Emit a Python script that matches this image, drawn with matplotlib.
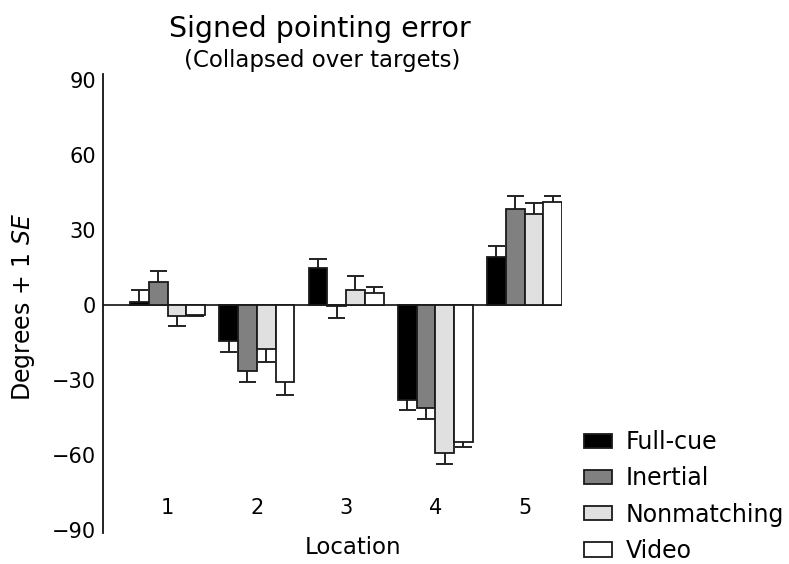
import matplotlib
matplotlib.use("Agg")
import matplotlib.pyplot as plt
import numpy as np

# ---- data ----
locations = ["1", "2", "3", "4", "5"]
series_names = ["Full-cue", "Inertial", "Nonmatching", "Video"]
full_cue = [1.3, -14.5, 14.9, -38.1, 19.1]
full_cue_se = [4.6, 4.2, 3.6, 4.0, 4.4]
inertial = [9.1, -26.5, -0.3, -41.1, 38.6]
inertial_se = [4.7, 4.4, 4.8, 4.3, 5.2]
nonmatching = [-4.2, -17.5, 6.2, -59.1, 36.5]
nonmatching_se = [4.3, 5.2, 5.3, 4.4, 4.4]
video = [-4.0, -30.9, 4.9, -54.9, 41.1]
video_se = [0.4, 5.2, 2.4, 2.0, 2.7]
y_ticks = [-90, -60, -30, 0, 30, 60, 90]

values = [full_cue, inertial, nonmatching, video]
errors = [full_cue_se, inertial_se, nonmatching_se, video_se]
colors = ["#000000", "#808080", "#e0e0e0", "#ffffff"]

plt.rcParams["font.family"] = ["DejaVu Sans"]
plt.rcParams["mathtext.fontset"] = "dejavusans"

W, H = 789, 564
fig = plt.figure(figsize=(W / 100, H / 100), dpi=100)
ax = fig.add_axes([103 / W, 1 - 533 / H, (562 - 103) / W, (533 - 74) / H])

x = np.arange(len(locations))
bw = 0.21
n = len(series_names)
for i, (vals, errs, c, name) in enumerate(zip(values, errors, colors, series_names)):
    xs = x + (i - (n - 1) / 2) * bw
    vals = np.array(vals)
    errs = np.array(errs)
    ax.bar(xs, vals, width=bw, color=c, edgecolor="#1a1a1a", linewidth=1.3,
           label=name, zorder=3)
    sign = np.where(vals >= 0, 1, -1)
    ends = vals + sign * errs
    ax.vlines(xs, vals, ends, color="#222222", linewidth=1.4, zorder=2)
    ax.hlines(ends, xs - bw * 0.46, xs + bw * 0.46, color="#222222",
              linewidth=1.4, zorder=2)

ax.axhline(0, color="#111111", linewidth=1.2, zorder=1)

ax.set_xlim(-0.723, 4.42)
ax.set_ylim(-91.2, 92.4)
ax.set_yticks(y_ticks)
ax.set_yticklabels([f"{t}".replace("-", "\u2212") for t in y_ticks])
ax.tick_params(axis="y", length=0, pad=5, labelsize=15)
ax.set_xticks([])
for s in ["top", "right", "bottom"]:
    ax.spines[s].set_visible(False)
ax.spines["left"].set_linewidth(1.3)
ax.spines["left"].set_color("#111111")

# location labels inside the axes region
for xi, lab in zip(x, locations):
    ax.text(xi, 0.0545, lab, transform=ax.get_xaxis_transform(),
            ha="center", va="center", fontsize=15)

fig.text(353 / W, 1 - 548 / H, "Location", ha="center", va="center", fontsize=16.5)
fig.text(24 / W, 1 - 307 / H, "Degrees + 1 $\\mathit{SE}$", rotation=90,
         ha="center", va="center", fontsize=17)
fig.text(320 / W, 1 - 29 / H, "Signed pointing error", ha="center", va="center",
         fontsize=20.5)
fig.text(322 / W, 1 - 60 / H, "(Collapsed over targets)", ha="center",
         va="center", fontsize=16.5)

ax.legend(loc="upper left", bbox_to_anchor=(584 / W, 1 - 430 / H),
          bbox_transform=fig.transFigure, frameon=False, fontsize=17,
          handlelength=1.2, handleheight=0.55, handletextpad=0.55,
          labelspacing=0.52, borderpad=0, borderaxespad=0)

fig.savefig("out.png", dpi=100)
